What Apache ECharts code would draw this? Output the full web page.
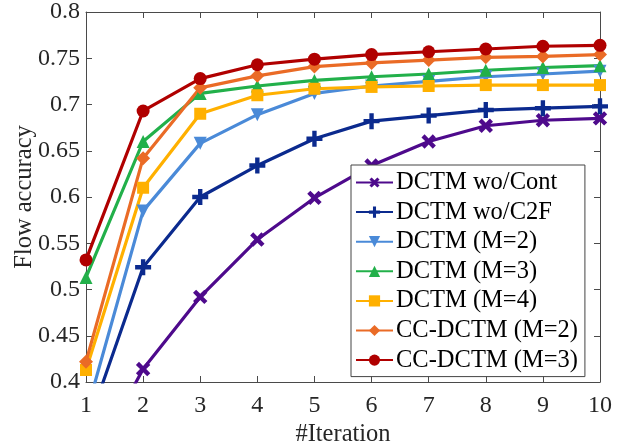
<!DOCTYPE html>
<html>
<head>
<meta charset="utf-8">
<script src="https://cdn.jsdelivr.net/npm/echarts@6/dist/echarts.min.js"></script>
<style>
  html, body { margin: 0; padding: 0; background: #fff; }
  #chart { width: 621px; height: 447px; }
</style>
</head>
<body>
<div id="chart"></div>
<script>
// iterations on x axis
const iterations = ['1', '2', '3', '4', '5', '6', '7', '8', '9', '10']
const yTicks = [0.4, 0.45, 0.5, 0.55, 0.6, 0.65, 0.7, 0.75, 0.8]

// flow accuracy per method (first points of some lines lie below 0.4 and get clipped)
const woCont = [0.30, 0.414, 0.492, 0.554, 0.599, 0.634, 0.660, 0.677, 0.683, 0.685]
const woC2F = [0.347, 0.524, 0.600, 0.634, 0.663, 0.682, 0.688, 0.694, 0.696, 0.698]
const dctmM2 = [0.365, 0.585, 0.658, 0.689, 0.712, 0.720, 0.725, 0.730, 0.733, 0.736]
const dctmM3 = [0.513, 0.660, 0.712, 0.720, 0.726, 0.730, 0.733, 0.737, 0.740, 0.742]
const dctmM4 = [0.413, 0.610, 0.690, 0.710, 0.717, 0.719, 0.720, 0.721, 0.721, 0.721]
const ccM2 = [0.422, 0.642, 0.718, 0.731, 0.741, 0.745, 0.748, 0.751, 0.752, 0.754]
const ccM3 = [0.532, 0.693, 0.728, 0.743, 0.749, 0.754, 0.757, 0.760, 0.763, 0.764]

const plusPath = 'path://M4,0 H7 V4 H11 V7 H7 V11 H4 V7 H0 V4 H4 Z'
const font = 'Liberation Serif'
const axisColor = '#4a4a4a'

const chart = echarts.init(document.getElementById('chart'))

//生成折线
const mkLine = (name, data, color, symbol, size, rotate) => ({
  name: name,
  type: 'line',
  data: data,
  symbol: symbol,
  symbolSize: size,
  symbolRotate: rotate || 0,
  showAllSymbol: true,
  clip: true,
  lineStyle: { color: color, width: 3.2 },
  itemStyle: { color: color, borderWidth: 0 },
  emphasis: { disabled: true },
  z: 3
})

const series = [
  mkLine('DCTM wo/Cont', woCont, '#4e0a8c', plusPath, 16, 45),
  mkLine('DCTM wo/C2F', woC2F, '#0b2a8e', plusPath, 16),
  mkLine('DCTM (M=2)', dctmM2, '#4a8ad8', 'triangle', 13, 180),
  mkLine('DCTM (M=3)', dctmM3, '#22b04a', 'triangle', 13),
  mkLine('DCTM (M=4)', dctmM4, '#ffb000', 'rect', 12),
  mkLine('CC-DCTM (M=2)', ccM2, '#ea6b26', 'diamond', 14),
  mkLine('CC-DCTM (M=3)', ccM3, '#b00000', 'circle', 13)
]

const tickFmt = (v) => String(parseFloat(v.toFixed(2)))

chart.setOption({
  animation: false,
  backgroundColor: '#fff',
  textStyle: { fontFamily: font },
  grid: { left: 86, right: 21, top: 12, bottom: 65, containLabel: false, outerBoundsMode: 'none' },
  legend: {
    left: 351,
    top: 165,
    orient: 'vertical',
    itemWidth: 37,
    itemHeight: 14,
    itemGap: 4.6,
    padding: [5, 7, 4, 4],
    backgroundColor: '#fff',
    borderColor: '#444',
    borderWidth: 1,
    borderRadius: 0,
    textStyle: { fontFamily: font, fontSize: 24.5, color: '#000', padding: [0, 0, 0, -2] },
    data: series.map((s) => s.name)
  },
  xAxis: [{
    type: 'category',
    data: iterations,
    boundaryGap: false,
    name: '#Iteration',
    nameLocation: 'middle',
    nameGap: 40,
    nameMoveOverlap: false,
    nameTextStyle: { fontFamily: font, fontSize: 24.5, color: '#262626' },
    axisLine: { lineStyle: { color: axisColor, width: 1 } },
    axisTick: { inside: true, length: 6, lineStyle: { color: axisColor } },
    axisLabel: { fontFamily: font, fontSize: 24, color: '#262626', margin: 12 },
    splitLine: { show: false }
  }, {
    type: 'category',
    data: iterations,
    boundaryGap: false,
    position: 'top',
    axisLine: { lineStyle: { color: axisColor, width: 1 } },
    axisTick: { inside: true, length: 6, lineStyle: { color: axisColor } },
    axisLabel: { show: false },
    splitLine: { show: false }
  }],
  yAxis: [{
    type: 'value',
    min: yTicks[0],
    max: yTicks[yTicks.length - 1],
    interval: 0.05,
    name: 'Flow accuracy',
    nameLocation: 'middle',
    nameGap: 49,
    nameMoveOverlap: false,
    nameTextStyle: { fontFamily: font, fontSize: 24.5, color: '#262626' },
    axisLine: { show: true, lineStyle: { color: axisColor, width: 1 } },
    axisTick: { show: true, inside: true, length: 6, lineStyle: { color: axisColor } },
    axisLabel: { fontFamily: font, fontSize: 24, color: '#262626', margin: 6, formatter: tickFmt },
    splitLine: { show: false }
  }, {
    type: 'value',
    min: yTicks[0],
    max: yTicks[yTicks.length - 1],
    interval: 0.05,
    position: 'right',
    axisLine: { show: true, lineStyle: { color: axisColor, width: 1 } },
    axisTick: { show: true, inside: true, length: 6, lineStyle: { color: axisColor } },
    axisLabel: { show: false },
    splitLine: { show: false }
  }],
  series: series
})
</script>
</body>
</html>
